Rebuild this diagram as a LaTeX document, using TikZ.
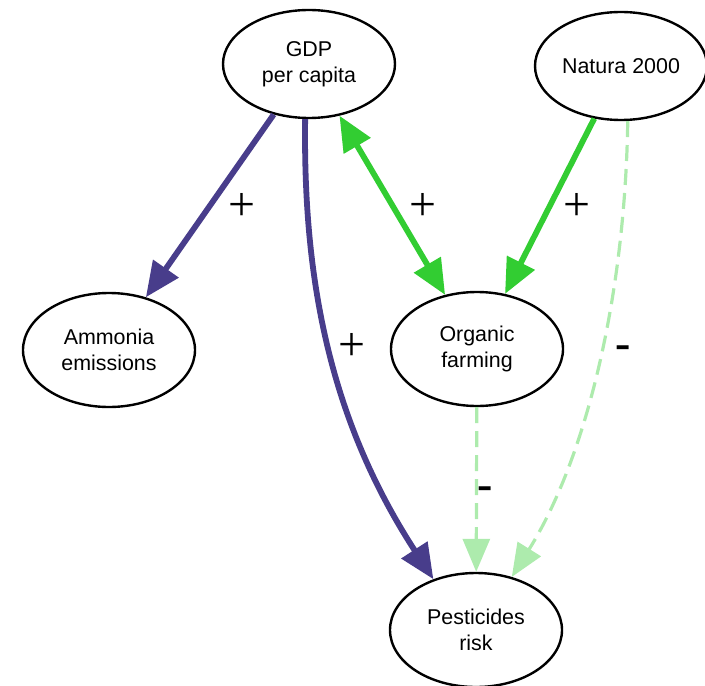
\documentclass[tikz,border=0pt]{standalone}
\usepackage{fontspec}
\setmainfont{Liberation Sans}
\newfontfamily\segnofont{Liberation Serif}
\usetikzlibrary{arrows.meta,shapes.geometric}
\definecolor{viola}{HTML}{483D8B}
\definecolor{verde}{HTML}{32CD32}
\definecolor{verdechiaro}{HTML}{ADEBAD}

\begin{document}
\begin{tikzpicture}[x=1bp, y=-1bp,
  nodo/.style={draw, ellipse, line width=2.4bp, minimum width=172bp, minimum height=108bp,
    inner sep=0pt, align=center, font=\fontsize{21.5}{26}\selectfont},
  forte/.style={line width=5.8bp, -{Triangle[length=35bp,width=30bp]}},
  debole/.style={line width=3.2bp, dash pattern=on 16bp off 8bp, verdechiaro,
    -{Triangle[length=33bp,width=27bp]}},
  segno/.style={font=\segnofont\fontsize{48}{48}\selectfont, inner sep=0pt}]
\useasboundingbox (0,0) rectangle (705,686);
% Nodi
\node[nodo] (gdp) at (309,64) {GDP\\per capita};
\node[nodo] (nat) at (621,66) {Natura 2000};
\node[nodo, minimum height=114bp] (amm) at (109,350) {Ammonia\\emissions};
\node[nodo, minimum height=114bp] (org) at (477,349) {Organic\\farming};
\node[nodo, minimum height=114bp] (pest) at (476,630) {Pesticides\\risk};
% Archi
\draw[forte, viola] (gdp) -- (amm);
\draw[forte, viola] (gdp.-94) .. controls (303,280) and (330,420) .. (pest.130);
\draw[forte, verde, {Triangle[length=35bp,width=30bp]}-{Triangle[length=35bp,width=30bp]}] (gdp) -- (org);
\draw[forte, verde] (nat) -- (org);
\draw[debole] (nat.-83) .. controls (625,300) and (585,460) .. (pest.56);
\draw[debole] (org) -- (pest);
% Etichette
\node[segno] (l1) at (242,207) {+};
\node[segno] (l2) at (423,207) {+};
\node[segno] (l3) at (577,207) {+};
\node[segno] (l4) at (352,347) {+};
\node[segno, font=\segnofont\bfseries\fontsize{46}{46}\selectfont] (l5) at (623,352) {-};
\node[segno, font=\segnofont\bfseries\fontsize{46}{46}\selectfont] (l6) at (485,493) {-};
\end{tikzpicture}
\end{document}
